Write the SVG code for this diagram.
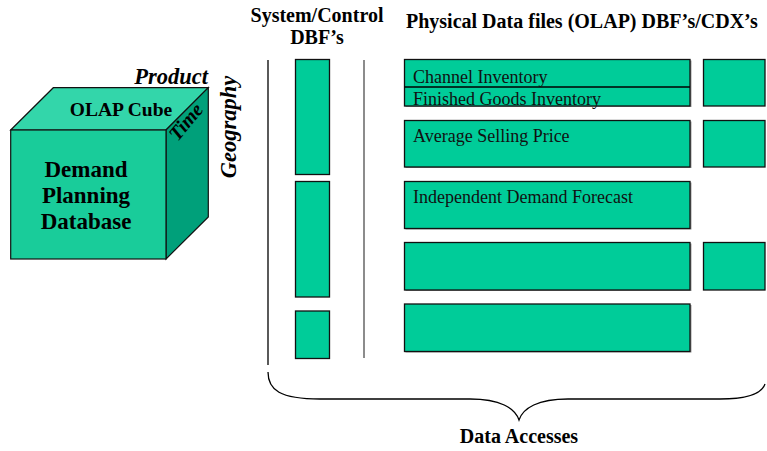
<svg xmlns="http://www.w3.org/2000/svg" width="767" height="451" viewBox="0 0 767 451">
  <style>
    .box { fill: #00CC99; stroke: #111; stroke-width: 1.3; }
    .shadow { fill: #999; }
    .lbl { font-family: "Liberation Serif", "Times New Roman", serif; font-size: 18px; fill: #111; }
    .hdr { font-family: "Liberation Serif", "Times New Roman", serif; font-size: 20px; font-weight: bold; fill: #000; }
    .cube { font-family: "Liberation Serif", "Times New Roman", serif; font-weight: bold; fill: #000; }
    .rule { stroke: #000; stroke-width: 1.3; fill: none; }
  </style>
  <rect width="767" height="451" fill="#fff"/>

  <!-- OLAP cube -->
  <g id="cube">
    <polygon points="10.7,130 53.3,87.7 208.3,87.7 166,130" fill="#33D6AA" stroke="#111" stroke-width="1.2"/>
    <polygon points="166,130 208.3,87.7 208.3,217 166,259" fill="#00A07A" stroke="#111" stroke-width="1.2"/>
    <rect x="10.7" y="130" width="155.3" height="129" fill="#19CC9A" stroke="#111" stroke-width="1.2"/>
    <text class="cube" x="121" y="116" font-size="19.5" text-anchor="middle">OLAP Cube</text>
    <text class="cube" x="86" y="177" font-size="23" text-anchor="middle">Demand</text>
    <text class="cube" x="86" y="203" font-size="23" text-anchor="middle">Planning</text>
    <text class="cube" x="86" y="229" font-size="23" text-anchor="middle">Database</text>
    <text class="cube" x="208" y="84" font-size="22.5" font-style="italic" text-anchor="end">Product</text>
    <text class="cube" font-size="20" font-style="italic" text-anchor="middle" transform="translate(191,126) rotate(-50)">Time</text>
    <text class="cube" font-size="22.5" font-style="italic" text-anchor="middle" transform="translate(236,127) rotate(-90)">Geography</text>
  </g>

  <!-- column headers -->
  <g id="headers">
    <text class="hdr" x="317" y="22" text-anchor="middle">System/Control</text>
    <text class="hdr" x="317" y="44" text-anchor="middle">DBF’s</text>
    <text class="hdr" x="406" y="28">Physical Data files (OLAP) DBF’s/CDX’s</text>
  </g>

  <!-- column dividers -->
  <g id="dividers">
    <line class="rule" x1="268" y1="60" x2="268" y2="365"/>
    <line x1="364" y1="60" x2="364" y2="358" stroke="#666" stroke-width="1.5"/>
  </g>

  <!-- system / control files -->
  <g id="sys1"><rect class="box" x="295.5" y="59.5" width="34" height="115"/></g>
  <g id="sys2"><rect class="box" x="295.5" y="181.5" width="34" height="115.5"/></g>
  <g id="sys3"><rect class="box" x="295.5" y="311" width="34" height="47.5"/></g>

  <!-- physical data files -->
  <g id="inventory">
    <rect class="shadow" x="405.5" y="60.5" width="286" height="46.5"/>
    <rect class="box" x="404.5" y="59.5" width="285.5" height="46.5"/>
    <line class="rule" x1="404.5" y1="87" x2="690" y2="87"/>
    <text class="lbl" x="413" y="83">Channel Inventory</text>
    <text class="lbl" x="413" y="105">Finished Goods Inventory</text>
  </g>
  <g id="price">
    <rect class="shadow" x="405.5" y="121.5" width="286" height="46.5"/>
    <rect class="box" x="404.5" y="120.5" width="285.5" height="46.5"/>
    <text class="lbl" x="413" y="142">Average Selling Price</text>
  </g>
  <g id="forecast">
    <rect class="shadow" x="405.5" y="182.5" width="286" height="47"/>
    <rect class="box" x="404.5" y="181.5" width="285.5" height="47"/>
    <text class="lbl" x="413" y="203">Independent Demand Forecast</text>
  </g>
  <g id="file4">
    <rect class="shadow" x="405.5" y="243.5" width="286" height="47.5"/>
    <rect class="box" x="404.5" y="242.5" width="285.5" height="47.5"/>
  </g>
  <g id="file5">
    <rect class="shadow" x="405.5" y="305" width="286" height="47.5"/>
    <rect class="box" x="404.5" y="304" width="285.5" height="47.5"/>
  </g>

  <!-- index files -->
  <g id="idx1"><rect class="box" x="703.5" y="59.5" width="61.5" height="46.5"/></g>
  <g id="idx2"><rect class="box" x="703.5" y="120.5" width="61.5" height="46.5"/></g>
  <g id="idx3"><rect class="box" x="703.5" y="242.5" width="61.5" height="47.5"/></g>

  <!-- brace spanning all files -->
  <g id="brace">
    <path class="rule" d="M268,372 C268,390 280,399 320,399 L470,399 C500,399 515,408 519,420 C523,408 538,399 568,399 L720,399 C750,399 762,393 765,384"/>
    <text class="hdr" x="519" y="443" text-anchor="middle">Data Accesses</text>
  </g>
</svg>
